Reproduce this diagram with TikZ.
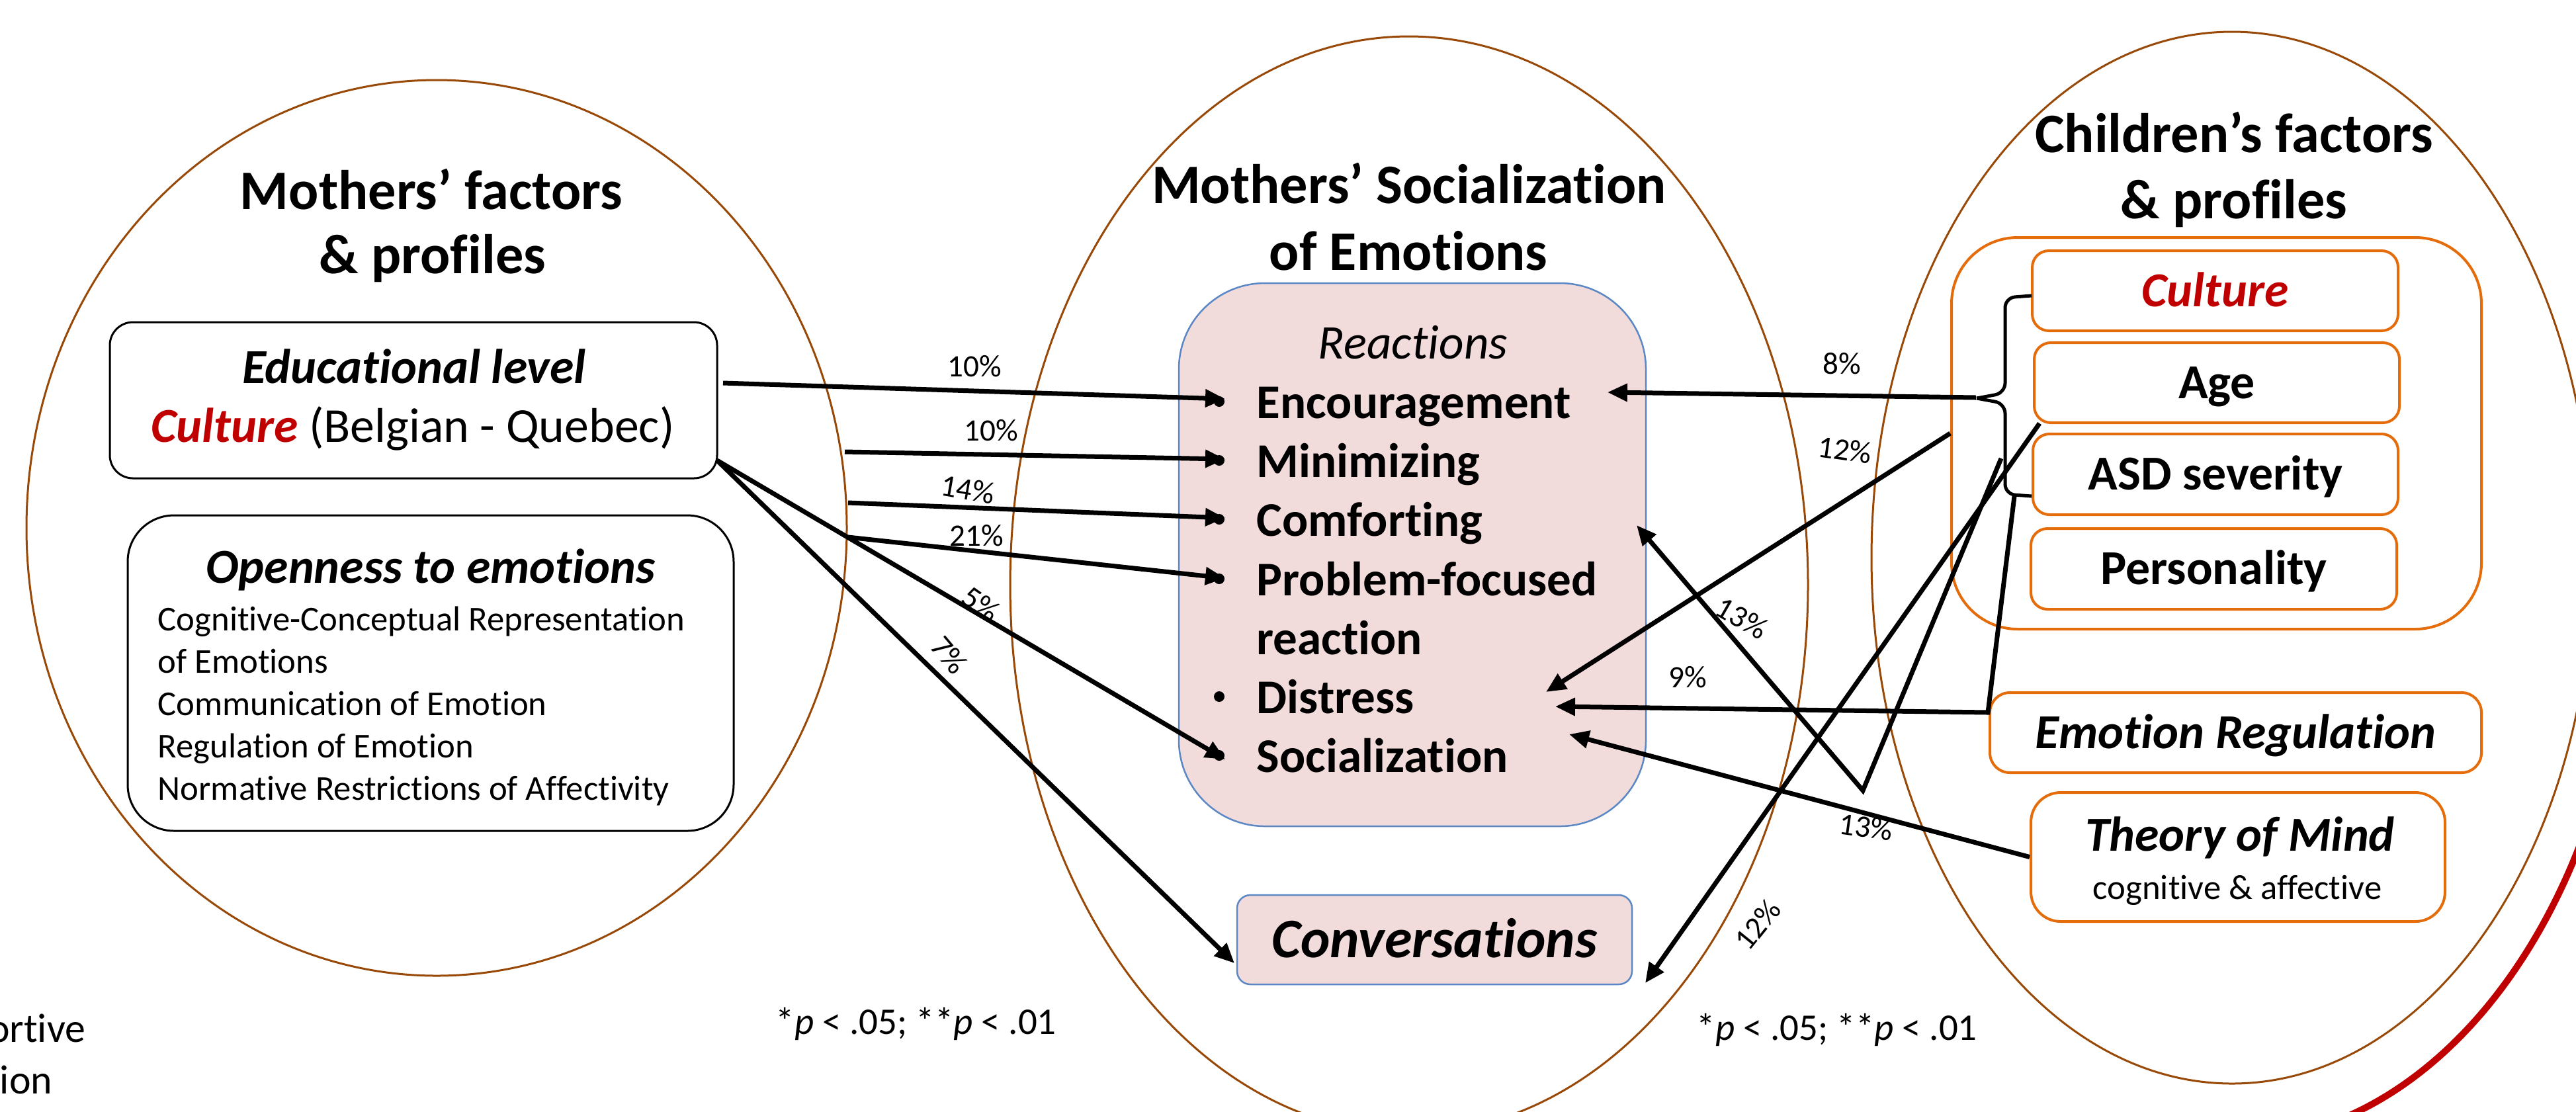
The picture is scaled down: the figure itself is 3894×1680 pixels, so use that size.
\documentclass[tikz,border=0pt]{standalone}
\usepackage{fontspec}
\setmainfont[RawFeature={-liga}]{Carlito}
\usetikzlibrary{shapes.geometric,arrows.meta}
\definecolor{redc}{HTML}{C00000}
\definecolor{orangec}{HTML}{E46C0A}
\definecolor{brownc}{HTML}{984807}
\definecolor{bluec}{HTML}{5B87C5}
\definecolor{pinkc}{HTML}{F2DCDB}
\newcommand\fsTitle{\fontsize{24}{28}\selectfont}
\newcommand\fsBox{\fontsize{21}{25}\selectfont}
\newcommand\fsItem{\fontsize{20.8}{24}\selectfont}
\newcommand\fsList{\fontsize{15}{18}\selectfont}
\newcommand\fsNote{\fontsize{16.2}{19}\selectfont}
\newcommand\fsPct{\fontsize{13.4}{16}\selectfont}
\newcommand\fsFrag{\fontsize{17.6}{21}\selectfont}
\tikzset{
  ell/.style={draw=brownc, line width=0.3mm, ellipse, inner sep=0pt},
  bbox/.style={draw=black, line width=0.3mm, inner sep=0pt},
  obox/.style={draw=orangec, line width=0.4mm, fill=white, rounded corners=2.5mm, inner sep=0pt,
               text height=13.5pt, text depth=0pt, font=\fsBox\bfseries},
  pbox/.style={draw=bluec, line width=0.25mm, fill=pinkc, inner sep=0pt},
  txt/.style={inner sep=0pt},
  titl/.style={txt, anchor=base, font=\fsTitle\bfseries},
  boxt/.style={txt, anchor=base, font=\fsBox},
  listt/.style={txt, anchor=base west, font=\fsList},
  itemt/.style={txt, anchor=base west, font=\fsItem\bfseries},
  bul/.style={circle, fill=black, inner sep=0pt, minimum size=1.6mm},
  arr/.style={line width=0.7mm, -{Triangle[length=3mm,width=2.6mm]}},
  brc/.style={line width=0.5mm, rounded corners=1.5mm},
  pct/.style={txt, font=\fsPct},
  note/.style={txt, anchor=base west, font=\fsNote},
}
\begin{document}
\begin{tikzpicture}[x=0.1mm, y=-0.1mm]
\useasboundingbox (0,0) rectangle (3894,1680);
\clip (0,0) rectangle (3894,1680);
\fill[white] (0,0) rectangle (3894,1680);

% ellipses
\node[ell, minimum width=124mm, minimum height=135.4mm] (lell) at (660,798) {};
\node[ell, minimum width=120.6mm, minimum height=165.8mm] (mell) at (2130,884) {};
\node[ell, minimum width=109mm, minimum height=159mm] (rell) at (3374,843) {};
\draw[redc, line width=1mm] (3374,843) ++(15:604 and 882) arc[start angle=15, end angle=95, x radius=604, y radius=882];

% titles
\node[titl] (t1a) at (652,316) {Mothers’ factors};
\node[titl] (t1b) at (654,413) {\& profiles};
\node[titl] (t2a) at (2130,307) {Mothers’ Socialization};
\node[titl] (t2b) at (2129,408) {of Emotions};
\node[titl] (t3a) at (3377,230) {Children’s factors};
\node[titl] (t3b) at (3377,330) {\& profiles};

% left boxes
\node[bbox, rounded corners=3.5mm, minimum width=91.8mm, minimum height=23.6mm] (edu) at (625,605) {};
\node[boxt] (edut1) at (626,579) {\bfseries\itshape Educational level};
\node[boxt] (edut2) at (624,668) {{\bfseries\itshape\color{redc}Culture} (Belgian - Quebec)};
\node[bbox, rounded corners=7mm, minimum width=91.6mm, minimum height=47.7mm] (open) at (651,1017.5) {};
\node[boxt] (opent) at (651,881) {\bfseries\itshape Openness to emotions};
\node[listt] (o1) at (238,953) {Cognitive-Conceptual Representation};
\node[listt] (o2) at (238,1017) {of Emotions};
\node[listt] (o3) at (238,1081) {Communication of Emotion};
\node[listt] (o4) at (238,1145) {Regulation of Emotion};
\node[listt] (o5) at (238,1209) {Normative Restrictions of Affectivity};

% middle
\node[pbox, rounded corners=13mm, minimum width=70.6mm, minimum height=82.1mm] (react) at (2135,838.5) {};
\node[txt, anchor=base, font=\fsItem\itshape] (reacth) at (2136,542) {Reactions};
\node[itemt] (i1) at (1899,632) {Encouragement};
\node[itemt] (i2) at (1899,721) {Minimizing};
\node[itemt] (i3) at (1899,810) {Comforting};
\node[itemt] (i4) at (1899,900) {Problem-focused};
\node[itemt] (i5) at (1899,989) {reaction};
\node[itemt] (i6) at (1899,1078) {Distress};
\node[itemt] (i7) at (1899,1167) {Socialization};
\node[bul] (b1) at (1843,607) {};
\node[bul] (b2) at (1843,696) {};
\node[bul] (b3) at (1843,785) {};
\node[bul] (b4) at (1843,875) {};
\node[bul] (b6) at (1843,1053) {};
\node[bul] (b7) at (1843,1142) {};
\node[pbox, rounded corners=2mm, minimum width=59.7mm, minimum height=13.5mm,
      text height=15.5pt, text depth=0pt, font=\fsTitle\bfseries\itshape] (conv) at (2168.5,1420.5) {Conversations};

% right boxes
\node[draw=orangec, line width=0.4mm, rounded corners=10mm, inner sep=0pt,
      minimum width=80.1mm, minimum height=59.2mm] (cbig) at (3350.5,655) {};
\node[obox, minimum width=55.3mm, minimum height=12.1mm] (ccult) at (3348.5,439.5) {\itshape\color{redc}Culture};
\node[obox, minimum width=55.2mm, minimum height=12.1mm] (cage) at (3351,578.5) {Age};
\node[obox, minimum width=55.2mm, minimum height=12.2mm] (casd) at (3349,717) {ASD severity};
\node[obox, minimum width=55.3mm, minimum height=12.2mm] (cpers) at (3346.5,860) {Personality};
\node[obox, rounded corners=3mm, minimum width=74.3mm, minimum height=12.1mm] (cer) at (3379.5,1107.5) {\itshape Emotion Regulation};
\node[obox, rounded corners=4.5mm, minimum width=62.6mm, minimum height=19.5mm] (ctom) at (3383,1295.5) {};
\node[boxt] (tomt1) at (3386,1286) {\bfseries\itshape Theory of Mind};
\node[txt, anchor=base, font=\fsList] (tomt2) at (3382,1359) {cognitive \& affective};

% brace
\draw[brc] (3071,447) -- (3031,450) -- (3031,594) -- (2988,602);
\draw[brc] (3071,750) -- (3031,747) -- (3031,610) -- (2988,602);

% connector end points
\coordinate (a1s) at (1093,579); \coordinate (a1e) at (1852,603);
\coordinate (a2s) at (1277,683); \coordinate (a2e) at (1852,694);
\coordinate (a3s) at (1282,760); \coordinate (a3e) at (1852,783);
\coordinate (a4s) at (1282,812); \coordinate (a4e) at (1852,874);
\coordinate (a5s) at (1084,696); \coordinate (a5e) at (1852,1148);
\coordinate (a6e) at (1866,1456);
\coordinate (r1s) at (2987,601); \coordinate (r1e) at (2430,593);
\coordinate (r2e) at (2337,1046);
\coordinate (ks) at (3025,693); \coordinate (kv) at (2816,1195); \coordinate (ke) at (2474,794);
\coordinate (r4s) at (3083,640); \coordinate (r4e) at (2487,1486);
\coordinate (r5s) at (3045,750); \coordinate (r5v) at (3005,1077); \coordinate (r5e) at (2351,1068);
\coordinate (te) at (2372,1110);

% connectors
\draw[arr] (a1s) -- (a1e);
\draw[arr] (a2s) -- (a2e);
\draw[arr] (a3s) -- (a3e);
\draw[arr] (a4s) -- (a4e);
\draw[arr] (a5s) -- (a5e);
\draw[arr] (a5s) -- (a6e);
\draw[arr] (r1s) -- (r1e);
\draw[arr] (cbig.west) -- (r2e);
\draw[arr] (ks) -- (kv) -- (ke);
\draw[arr] (r4s) -- (r4e);
\draw[arr] (r5s) -- (r5v) -- (r5e);
\draw[arr] (ctom.west) -- (te);

% labels
\node[pct] (l1) at (1473,554) {10\%};
\node[pct] (l2) at (1498,651) {10\%};
\node[pct, rotate=-10] (l3) at (1463,740) {14\%};
\node[pct] (l4) at (1476,810) {21\%};
\node[pct, rotate=-35] (l5) at (1483,913) {5\%};
\node[pct, rotate=-50] (l6) at (1435,990) {7\%};
\node[pct] (l7) at (2784,550) {8\%};
\node[pct, rotate=-8] (l8) at (2789,680) {12\%};
\node[pct, rotate=-30] (l9) at (2633,934) {13\%};
\node[pct] (l10) at (2551,1024) {9\%};
\node[pct, rotate=-8] (l11) at (2821,1250) {13\%};
\node[pct, rotate=51] (l12) at (2657,1398) {12\%};

% footnotes
\node[note] (n1) at (1172,1563) {*\textit{p} < .05; **\textit{p} < .01};
\node[note] (n2) at (2564,1572) {*\textit{p} < .05; **\textit{p} < .01};
\node[txt, anchor=base east, font=\fsFrag] (f1) at (130,1575) {ortive};
\node[txt, anchor=base east, font=\fsFrag] (f2) at (80,1653) {ion};
\end{tikzpicture}
\end{document}
